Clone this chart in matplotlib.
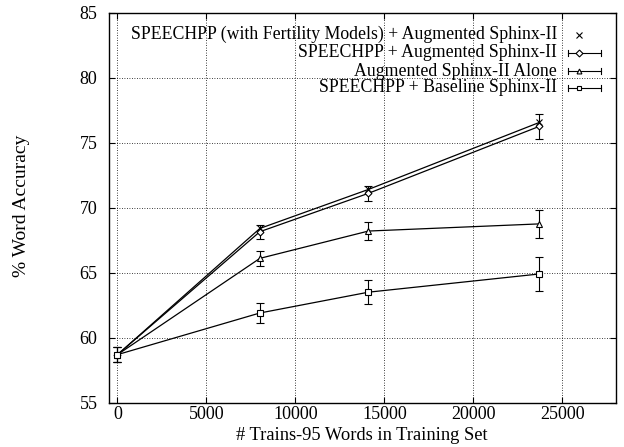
import matplotlib
matplotlib.use("Agg")
import matplotlib.pyplot as plt

plt.rcParams['font.family'] = ['Liberation Serif', 'DejaVu Serif']

# data
words = [0, 8000, 14100, 23700]
fert = [58.7, 68.4, 71.4, 76.55]
aug = [58.7, 68.15, 71.1, 76.25]
aug_err = [0.6, 0.55, 0.6, 0.95]
alone = [58.7, 66.1, 68.2, 68.75]
alone_err = [0.6, 0.6, 0.7, 1.1]
base = [58.7, 61.9, 63.5, 64.9]
base_err = [0.6, 0.75, 0.9, 1.28]

labels = ["SPEECHPP (with Fertility Models) + Augmented Sphinx-II",
          "SPEECHPP + Augmented Sphinx-II",
          "Augmented Sphinx-II Alone",
          "SPEECHPP + Baseline Sphinx-II"]

fig = plt.figure(figsize=(6.24, 4.47), dpi=100)
ax = fig.add_axes([0.174, 0.099, 0.813, 0.873])

ax.plot(words, fert, color='black', lw=0.9, marker='x', ms=4, mew=0.8)
ax.errorbar(words, aug, yerr=aug_err, color='black', lw=0.9, marker='D', ms=3.5,
            mfc='white', mew=0.8, capsize=3, elinewidth=0.8)
ax.errorbar(words, alone, yerr=alone_err, color='black', lw=0.9, marker='^', ms=4,
            mfc='white', mew=0.8, capsize=3, elinewidth=0.8)
ax.errorbar(words, base, yerr=base_err, color='black', lw=0.9, marker='s', ms=4,
            mfc='white', mew=0.8, capsize=3, elinewidth=0.8)

ax.set_xlim(-500, 28000)
ax.set_ylim(55, 85)
ax.set_xticks([0, 5000, 10000, 15000, 20000, 25000])
ax.set_yticks([55, 60, 65, 70, 75, 80, 85])
ax.grid(True, color='black', ls=(0, (1, 2)), lw=0.6)
ax.tick_params(direction='in', top=True, right=True, labelsize=13, length=4)
ax.tick_params(axis='y', pad=8)
ax.tick_params(axis='x', pad=2)
for s in ax.spines.values():
    s.set_linewidth(1.0)

ax.set_xlabel("# Trains-95 Words in Training Set", fontsize=13.3, labelpad=3)
fig.text(0.034, 0.54, "% Word Accuracy", rotation=90, fontsize=14,
         ha='center', va='center')

# gnuplot style key: right aligned text, sample on the right
rows = [0.943, 0.897, 0.850, 0.807]
markers = ['x', 'D', '^', 's']
for i, (lab, m) in enumerate(zip(labels, markers)):
    y = rows[i]
    ax.text(0.884, y, lab, transform=ax.transAxes, ha='right', va='center',
            fontsize=12.8, zorder=5)
    if i == 0:
        ax.plot([0.927], [y], transform=ax.transAxes, marker='x', ms=4,
                mew=0.8, color='black')
    else:
        ax.plot([0.905, 0.970], [y, y], transform=ax.transAxes, color='black', lw=0.8)
        for xe in (0.905, 0.970):
            ax.plot([xe, xe], [y - 0.008, y + 0.008], transform=ax.transAxes,
                    color='black', lw=0.8)
        ax.plot([0.927], [y], transform=ax.transAxes, marker=m, ms=3.5,
                mfc='white', mew=0.8, color='black')

fig.savefig("out.png", dpi=100)
